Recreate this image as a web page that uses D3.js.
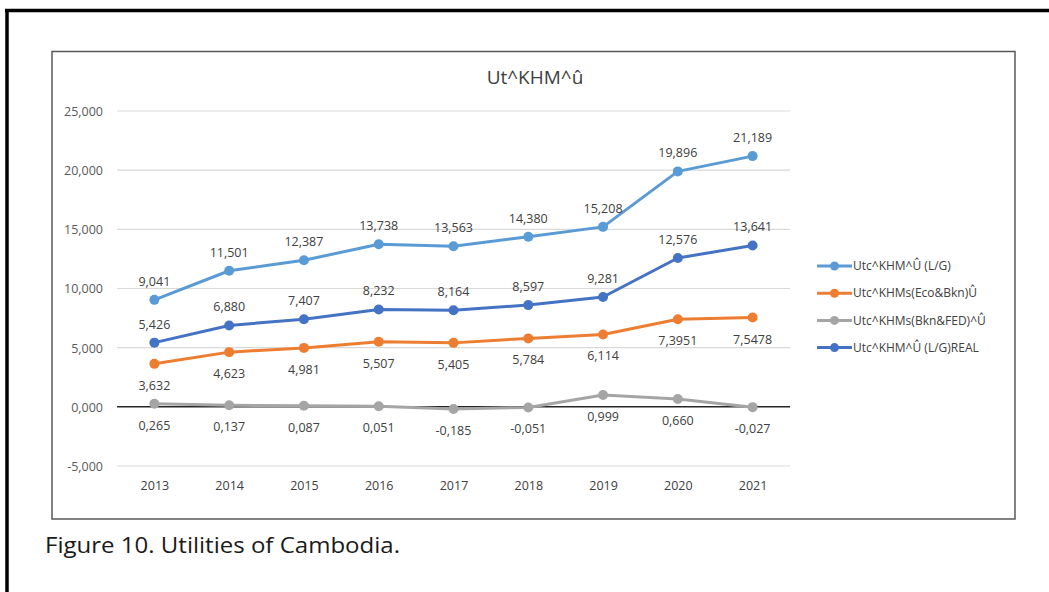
<!DOCTYPE html>
<html><head><meta charset="utf-8">
<script src="https://cdn.jsdelivr.net/npm/d3@7/dist/d3.min.js"></script>
<style>body{margin:0;background:#fff;}svg{display:block;font-family:"Open Sans",sans-serif;}</style>
</head><body>
<svg id="c" width="1049" height="592"></svg>
<script>
const years = ["2013","2014","2015","2016","2017","2018","2019","2020","2021"];
const seriesNames = ["Utc^KHM^Û (L/G)","Utc^KHMs(Eco&Bkn)Û","Utc^KHMs(Bkn&FED)^Û","Utc^KHM^Û (L/G)REAL"];
const lgValues   = [9.041, 11.501, 12.387, 13.738, 13.563, 14.380, 15.208, 19.896, 21.189];
const ecoValues  = [3.632, 4.623, 4.981, 5.507, 5.405, 5.784, 6.114, 7.3951, 7.5478];
const fedValues  = [0.265, 0.137, 0.087, 0.051, -0.185, -0.051, 0.999, 0.660, -0.027];
const realValues = [5.426, 6.880, 7.407, 8.232, 8.164, 8.597, 9.281, 12.576, 13.641];
const yTicks = [-5, 0, 5, 10, 15, 20, 25];
const colors = ["#5B9BD5", "#ED7D31", "#A5A5A5", "#4472C4"];
const labelPos = ["above", "below", "below", "above"];
const title = "Ut^KHM^û";
const caption = "Figure 10. Utilities of Cambodia.";

const svg = d3.select("#c");
// page frame
svg.append("line").attr("x1",5).attr("x2",1049).attr("y1",10.5).attr("y2",10.5).attr("stroke","#000").attr("stroke-width",3.5);
svg.append("line").attr("x1",7).attr("x2",7).attr("y1",9).attr("y2",592).attr("stroke","#000").attr("stroke-width",3.5);
// chart border
svg.append("rect").attr("x",52).attr("y",51.5).attr("width",963).attr("height",467.5)
  .attr("fill","#fff").attr("stroke","#595959").attr("stroke-width",1.5);

const x = d3.scalePoint().domain(years).range([117, 790]).padding(0.5);
const y = d3.scaleLinear().domain([-5, 25]).range([466, 111]);

const fmtN = (v, dec) => d3.format("." + dec + "f")(v).replace("\u2212", "-").replace(".", ",");
const fmt = v => {
  const s = String(Math.abs(v));
  const dec = s.includes(".") ? s.split(".")[1].length : 0;
  return fmtN(v, Math.max(3, dec));
};

// gridlines
svg.append("g").selectAll("line").data(yTicks.filter(t => t !== 0)).join("line")
  .attr("x1",117).attr("x2",790).attr("y1",d=>y(d)).attr("y2",d=>y(d))
  .attr("stroke","#d9d9d9").attr("stroke-width",1.2);
// y axis labels
const yAxis = d3.axisLeft(y).tickValues(yTicks).tickSize(0).tickPadding(0)
  .tickFormat(d => fmtN(d, 3));
svg.append("g").attr("transform","translate(103,0)").call(yAxis)
  .call(g => g.select(".domain").remove())
  .selectAll("text").attr("font-size",12.5).attr("fill","#595959").attr("font-family","Open Sans").attr("dy","0.35em");
// zero line
svg.append("line").attr("x1",117).attr("x2",790).attr("y1",y(0)).attr("y2",y(0)).attr("stroke","#262626").attr("stroke-width",1.5);
// x axis labels
const xAxis = d3.axisBottom(x).tickSize(0).tickPadding(0);
svg.append("g").attr("transform","translate(0,481)").call(xAxis)
  .call(g => g.select(".domain").remove())
  .selectAll("text").attr("font-size",12.5).attr("fill","#404040").attr("font-family","Open Sans");

// title
svg.append("text").attr("x",535).attr("y",84).attr("text-anchor","middle")
  .attr("font-size",19).attr("fill","#404040").text(title);

const allSeries = [lgValues, ecoValues, fedValues, realValues];
const line = d3.line().x((d,i)=>x(years[i])).y(d=>y(d));
allSeries.forEach((vals, k) => {
  const g = svg.append("g");
  g.append("path").datum(vals).attr("d", line).attr("fill","none")
    .attr("stroke", colors[k]).attr("stroke-width",3).attr("stroke-linejoin","round");
  g.selectAll("circle").data(vals).join("circle")
    .attr("cx",(d,i)=>x(years[i])).attr("cy",d=>y(d)).attr("r",5).attr("fill",colors[k]);
});
allSeries.forEach((vals, k) => {
  svg.append("g").selectAll("text").data(vals).join("text")
    .attr("x",(d,i)=>x(years[i]))
    .attr("y",d => labelPos[k] === "above" ? y(d) - 14 : y(d) + 26)
    .attr("text-anchor","middle").attr("font-size",12.5).attr("fill","#404040")
    .text(d => fmt(d));
});

// legend
const leg = svg.append("g");
seriesNames.forEach((name, k) => {
  const ly = 266 + k * 27.2;
  leg.append("line").attr("x1",817).attr("x2",852).attr("y1",ly).attr("y2",ly)
    .attr("stroke",colors[k]).attr("stroke-width",3);
  leg.append("circle").attr("cx",834.5).attr("cy",ly).attr("r",4.5).attr("fill",colors[k]);
  leg.append("text").attr("x",853).attr("y",ly).attr("dy","0.35em")
    .attr("font-size",12).attr("fill","#404040").text(name);
});

// caption
svg.append("text").attr("x",45).attr("y",553).attr("font-size",21).attr("fill","#1a1a1a")
  .attr("textLength",355).attr("lengthAdjust","spacingAndGlyphs").text(caption);
</script>
</body></html>
